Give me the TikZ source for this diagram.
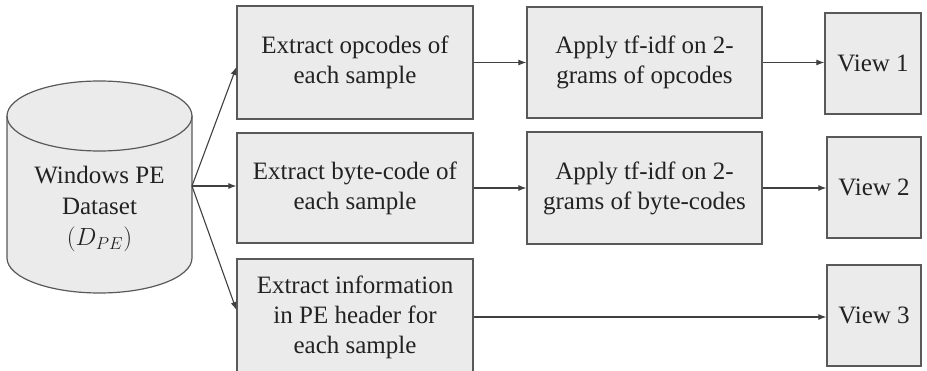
\documentclass[tikz,border=0pt]{standalone}
\usepackage{fontspec}
\setmainfont{Liberation Serif}
\usetikzlibrary{arrows.meta}
\definecolor{boxfill}{HTML}{EBEBEB}
\definecolor{boxline}{HTML}{595959}
\definecolor{arrowc}{HTML}{404040}
\definecolor{txt}{HTML}{222222}
\begin{document}
\begin{tikzpicture}[x=1pt,y=1pt,
  box/.style={draw=boxline, fill=boxfill, line width=1.2pt, text=txt, align=center,
    inner sep=0pt, font=\fontsize{25}{30}\selectfont},
  multibox/.style={box, execute at begin node={\rule{0pt}{23pt}}},
  conn/.style={draw=arrowc, line width=1.1pt, -{Latex[length=8pt,width=6pt]}}]
\useasboundingbox (0,0) rectangle (927,370);
% cylinder
\fill[boxfill] (7,254) -- (7,112) arc[start angle=180, end angle=360, x radius=92.5pt, y radius=35pt]
  -- (192,254) arc[start angle=0, end angle=180, x radius=92.5pt, y radius=35pt] -- cycle;
\draw[boxline, line width=1.2pt] (7,254) -- (7,112) arc[start angle=180, end angle=360, x radius=92.5pt, y radius=35pt] -- (192,254);
\draw[boxline, line width=1.2pt] (99.5,254) ellipse [x radius=92.5pt, y radius=35pt];
\node[text=txt, align=center, font=\fontsize{25}{31}\selectfont] (cyl) at (99.5,161) {Windows PE\\Dataset\\$(D_{PE})$};
\coordinate (src) at (192,184);
% boxes
\node[multibox, minimum width=236pt, minimum height=113pt] (e1) at (355,307.5) {Extract opcodes of\\each sample};
\node[multibox, minimum width=235pt, minimum height=111pt] (a1) at (644.5,307.5) {Apply tf-idf on 2-\\grams of opcodes};
\node[box, minimum width=96pt, minimum height=101pt] (v1) at (873,306.5) {View 1};
\node[multibox, minimum width=236pt, minimum height=110pt] (e2) at (355,182) {Extract byte-code of\\each sample};
\node[multibox, minimum width=235pt, minimum height=112pt] (a2) at (644.5,182) {Apply tf-idf on 2-\\grams of byte-codes};
\node[box, minimum width=94pt, minimum height=101pt] (v2) at (874,182.5) {View 2};
\node[multibox, minimum width=236pt, minimum height=116pt] (e3) at (355,53) {Extract information\\in PE header for\\each sample};
\node[box, minimum width=94pt, minimum height=101pt] (v3) at (874,54.5) {View 3};
% connectors
\draw[conn] (src) -- ([yshift=-4.5pt]e1.west);
\draw[conn] (src) -- ([yshift=2pt]e2.west);
\draw[conn] (src) -- ([yshift=7pt]e3.west);
\draw[conn] (e1.east) -- (e1.east -| a1.west);
\draw[conn] (a1.east) -- (a1.east -| v1.west);
\draw[conn] (e2.east) -- (e2.east -| a2.west);
\draw[conn] (a2.east) -- (a2.east -| v2.west);
\draw[conn] (e3.east) -- (e3.east -| v3.west);
\end{tikzpicture}
\end{document}
